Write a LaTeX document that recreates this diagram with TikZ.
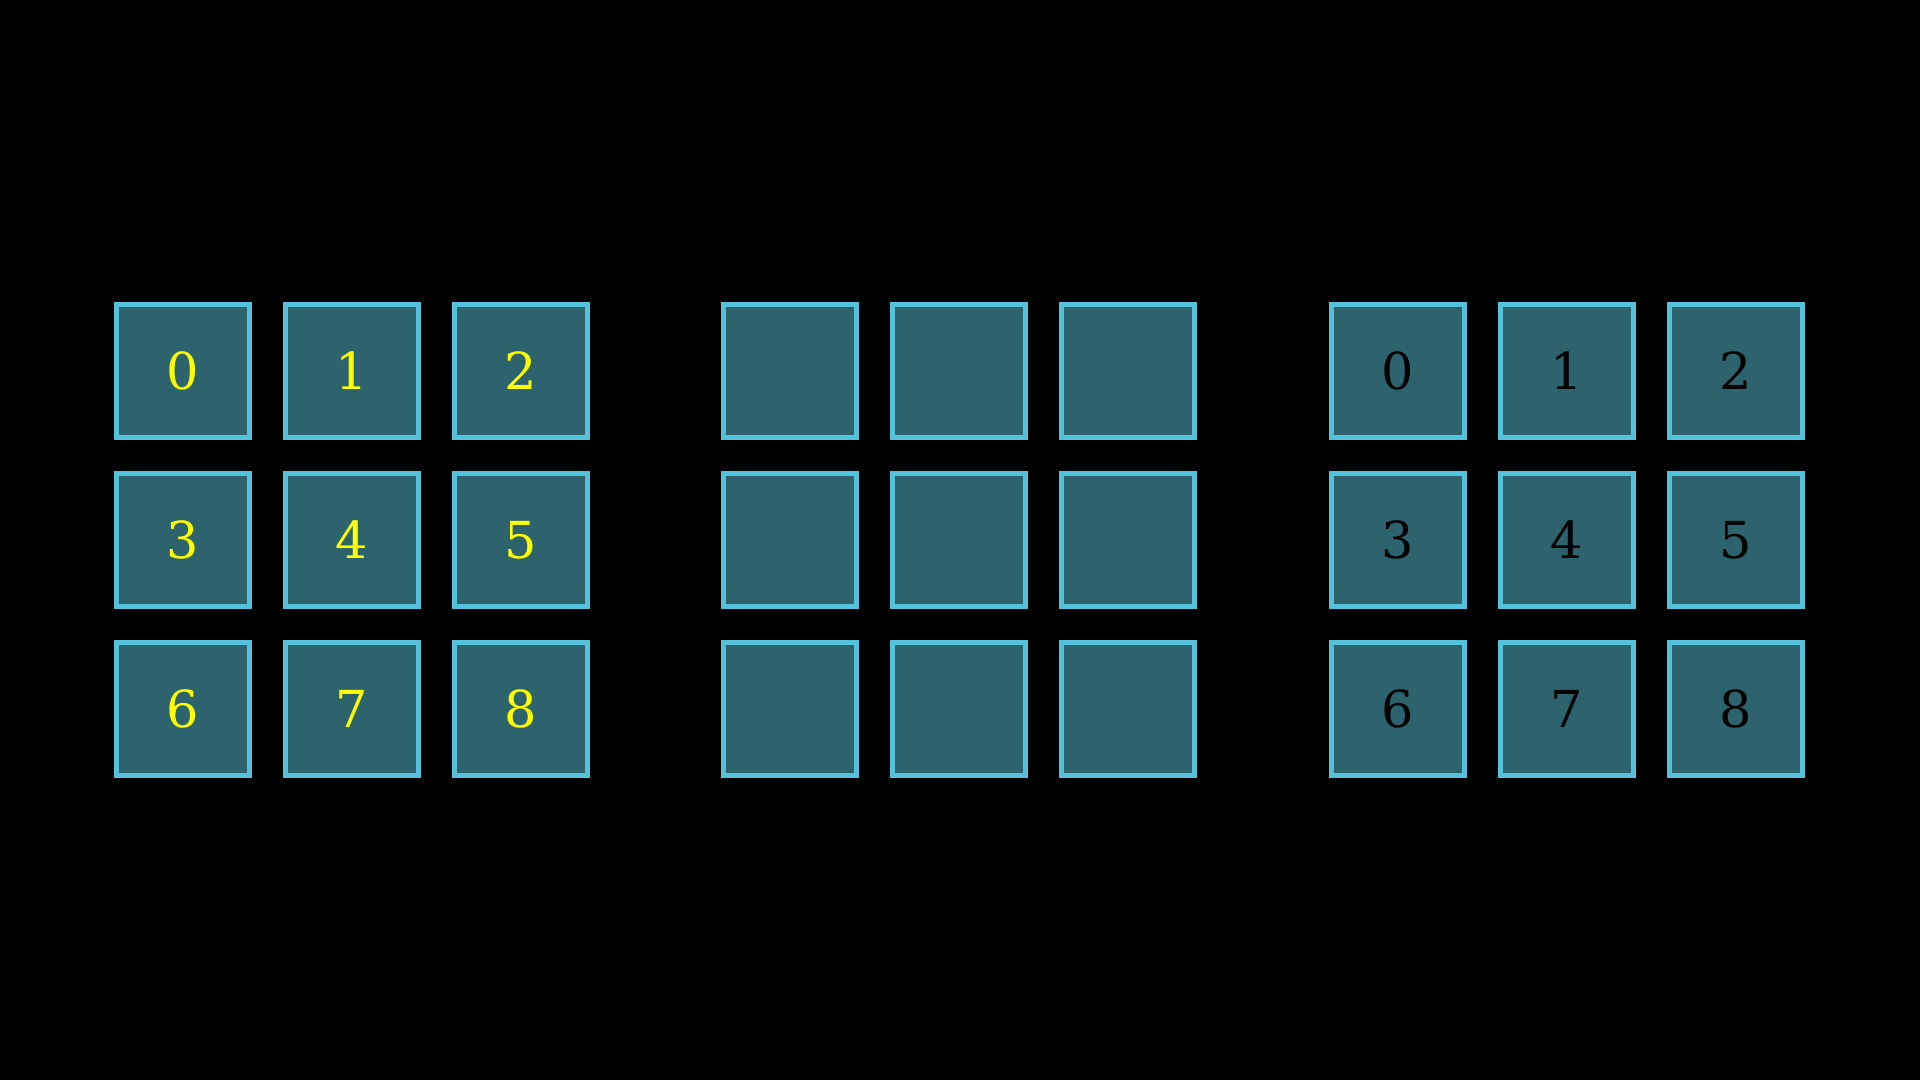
\documentclass[tikz,border=0pt]{standalone}
\usepackage{fontspec}
\setmainfont{DejaVu Serif}
\usepackage{xcolor}
\usepackage{tikz}

\definecolor{cellfill}{HTML}{2D636D}
\definecolor{celledge}{HTML}{56C1DB}
\definecolor{numyellow}{HTML}{FFFF00}

\tikzset{
    cell/.style={draw=celledge, fill=cellfill, line width=1.6pt,
        minimum size=1.33cm, inner sep=0pt, font=\fontsize{14.5}{16}\selectfont}
}

\begin{document}
\begin{tikzpicture}
    % background
    \fill[black] (0, 0) rectangle (19.2, -10.8);
    \useasboundingbox (0, 0) rectangle (19.2, -10.8);

    % left grid
    \node[cell, text=numyellow] (l0) at (1.83, -3.71) {0};
    \node[cell, text=numyellow] (l1) at (3.52, -3.71) {1};
    \node[cell, text=numyellow] (l2) at (5.21, -3.71) {2};
    \node[cell, text=numyellow] (l3) at (1.83, -5.40) {3};
    \node[cell, text=numyellow] (l4) at (3.52, -5.40) {4};
    \node[cell, text=numyellow] (l5) at (5.21, -5.40) {5};
    \node[cell, text=numyellow] (l6) at (1.83, -7.09) {6};
    \node[cell, text=numyellow] (l7) at (3.52, -7.09) {7};
    \node[cell, text=numyellow] (l8) at (5.21, -7.09) {8};

    % middle grid
    \node[cell] (m0) at (7.90, -3.71) {};
    \node[cell] (m1) at (9.59, -3.71) {};
    \node[cell] (m2) at (11.28, -3.71) {};
    \node[cell] (m3) at (7.90, -5.40) {};
    \node[cell] (m4) at (9.59, -5.40) {};
    \node[cell] (m5) at (11.28, -5.40) {};
    \node[cell] (m6) at (7.90, -7.09) {};
    \node[cell] (m7) at (9.59, -7.09) {};
    \node[cell] (m8) at (11.28, -7.09) {};

    % right grid
    \node[cell, text=black] (r0) at (13.98, -3.71) {0};
    \node[cell, text=black] (r1) at (15.67, -3.71) {1};
    \node[cell, text=black] (r2) at (17.36, -3.71) {2};
    \node[cell, text=black] (r3) at (13.98, -5.40) {3};
    \node[cell, text=black] (r4) at (15.67, -5.40) {4};
    \node[cell, text=black] (r5) at (17.36, -5.40) {5};
    \node[cell, text=black] (r6) at (13.98, -7.09) {6};
    \node[cell, text=black] (r7) at (15.67, -7.09) {7};
    \node[cell, text=black] (r8) at (17.36, -7.09) {8};
\end{tikzpicture}
\end{document}
